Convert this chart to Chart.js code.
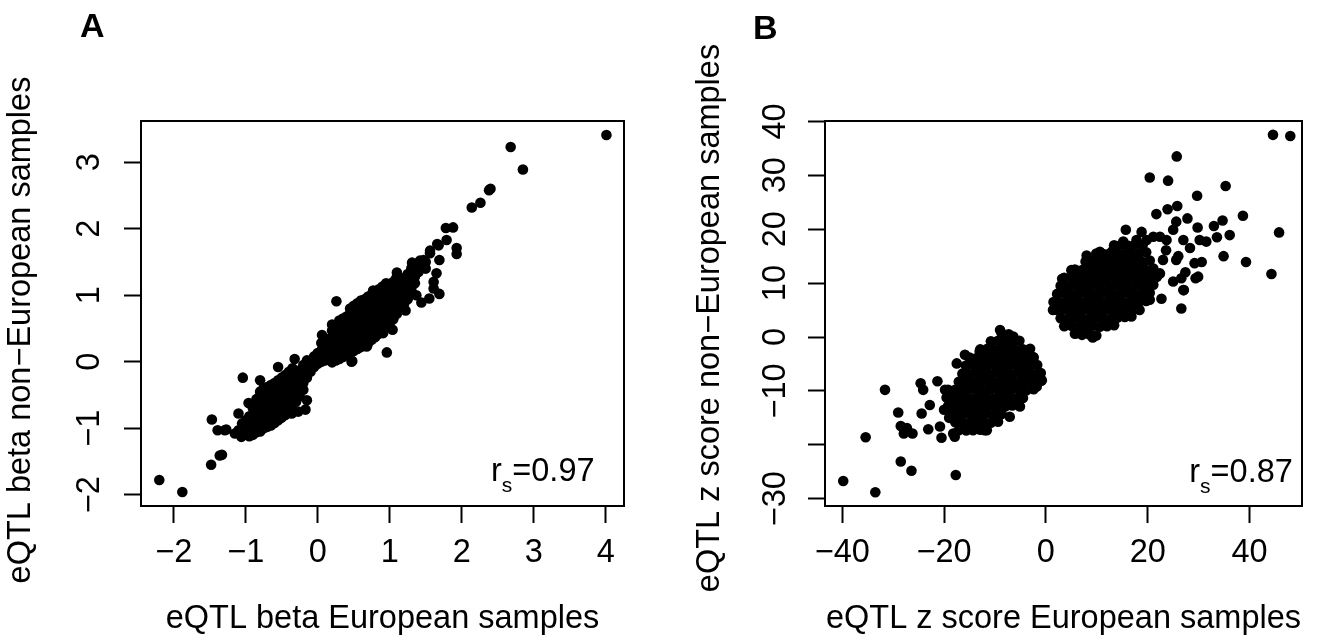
<!DOCTYPE html>
<html>
<head>
<meta charset="utf-8">
<script src="https://cdn.jsdelivr.net/npm/chart.js@4.4.1/dist/chart.umd.min.js"></script>
<style>
  html, body { margin: 0; padding: 0; background: #fff; }
  body { width: 1317px; height: 641px; position: relative; overflow: hidden; }
  canvas { position: absolute; top: 0; }
  .tag { position: absolute; z-index: 2; font: bold 34px 'Liberation Sans', Arial, sans-serif; line-height: 34px; color: #000; }
</style>
</head>
<body>
<div class="tag" style="left:80px; top:8px">A</div>
<div class="tag" style="left:753px; top:10px">B</div>
<canvas id="chartA" style="left:0"></canvas>
<canvas id="chartB" style="left:660px"></canvas>
<script>
// ---- panel A: eQTL beta, European (x) vs non-European (y) ----
const betaXTicks = [-2, -1, 0, 1, 2, 3, 4];
const betaXLabels = ['\u22122', '\u22121', '0', '1', '2', '3', '4'];
const betaYTicks = [-2, -1, 0, 1, 2, 3];
const betaYLabels = ['\u22122', '\u22121', '0', '1', '2', '3'];

// dense diagonal band
const betaBand = [
  [-1.05,-1.05],[-1.05,-0.93],
  [-1.00,-1.08],[-1.00,-0.98],[-1.00,-0.88],
  [-0.95,-1.12],[-0.95,-1.02],[-0.95,-0.92],[-0.95,-0.82],
  [-0.90,-1.10],[-0.90,-1.00],[-0.90,-0.90],[-0.90,-0.80],[-0.90,-0.70],
  [-0.85,-1.06],[-0.85,-0.96],[-0.85,-0.86],[-0.85,-0.76],[-0.85,-0.66],[-0.85,-0.56],
  [-0.80,-1.05],[-0.80,-0.95],[-0.80,-0.84],[-0.80,-0.74],[-0.80,-0.64],[-0.80,-0.55],[-0.80,-0.45],
  [-0.75,-1.00],[-0.75,-0.90],[-0.75,-0.80],[-0.75,-0.70],[-0.75,-0.60],[-0.75,-0.50],[-0.75,-0.40],
  [-0.70,-0.98],[-0.70,-0.88],[-0.70,-0.78],[-0.70,-0.68],[-0.70,-0.58],[-0.70,-0.48],[-0.70,-0.38],
  [-0.65,-0.96],[-0.65,-0.86],[-0.65,-0.75],[-0.65,-0.65],[-0.65,-0.55],[-0.65,-0.45],[-0.65,-0.35],
  [-0.60,-0.92],[-0.60,-0.82],[-0.60,-0.72],[-0.60,-0.62],[-0.60,-0.52],[-0.60,-0.42],[-0.60,-0.32],
  [-0.55,-0.88],[-0.55,-0.78],[-0.55,-0.68],[-0.55,-0.58],[-0.55,-0.48],[-0.55,-0.38],[-0.55,-0.28],
  [-0.50,-0.84],[-0.50,-0.74],[-0.50,-0.64],[-0.50,-0.54],[-0.50,-0.44],[-0.50,-0.34],[-0.50,-0.24],
  [-0.45,-0.80],[-0.45,-0.70],[-0.45,-0.60],[-0.45,-0.50],[-0.45,-0.40],[-0.45,-0.30],[-0.45,-0.20],
  [-0.40,-0.74],[-0.40,-0.64],[-0.40,-0.54],[-0.40,-0.44],[-0.40,-0.34],[-0.40,-0.25],[-0.40,-0.15],
  [-0.35,-0.68],[-0.35,-0.58],[-0.35,-0.48],[-0.35,-0.38],[-0.35,-0.28],[-0.35,-0.20],[-0.35,-0.10],
  [-0.30,-0.60],[-0.30,-0.50],[-0.30,-0.40],[-0.30,-0.30],[-0.30,-0.20],
  [-0.25,-0.52],[-0.25,-0.42],[-0.25,-0.32],[-0.25,-0.22],[-0.25,-0.13],
  [-0.20,-0.42],[-0.20,-0.32],[-0.20,-0.22],[-0.20,-0.12],[-0.20,-0.05],
  [-0.15,-0.24],[-0.15,-0.15],[-0.15,-0.06],[-0.15,0.02],
  [-0.10,-0.15],[-0.10,-0.07],[-0.10,0.01],
  [-0.05,-0.08],[-0.05,0.00],[-0.05,0.08],
  [0.00,-0.03],[0.00,0.05],[0.00,0.13],
  [0.05,0.00],[0.05,0.08],[0.05,0.17],[0.05,0.28],
  [0.10,0.02],[0.10,0.10],[0.10,0.20],[0.10,0.30],
  [0.15,0.05],[0.15,0.14],[0.15,0.24],[0.15,0.34],
  [0.20,-0.01],[0.20,0.07],[0.20,0.17],[0.20,0.27],[0.20,0.37],[0.20,0.47],
  [0.25,0.02],[0.25,0.10],[0.25,0.20],[0.25,0.30],[0.25,0.40],[0.25,0.50],
  [0.30,0.04],[0.30,0.12],[0.30,0.22],[0.30,0.32],[0.30,0.42],[0.30,0.54],[0.30,0.62],
  [0.35,0.07],[0.35,0.15],[0.35,0.25],[0.35,0.35],[0.35,0.45],[0.35,0.57],[0.35,0.65],
  [0.40,0.10],[0.40,0.18],[0.40,0.28],[0.40,0.38],[0.40,0.48],[0.40,0.60],[0.40,0.68],
  [0.45,0.12],[0.45,0.20],[0.45,0.30],[0.45,0.40],[0.45,0.50],[0.45,0.62],[0.45,0.72],[0.45,0.80],
  [0.50,0.16],[0.50,0.24],[0.50,0.34],[0.50,0.44],[0.50,0.54],[0.50,0.65],[0.50,0.76],[0.50,0.84],
  [0.55,0.19],[0.55,0.27],[0.55,0.37],[0.55,0.47],[0.55,0.57],[0.55,0.68],[0.55,0.80],[0.55,0.88],
  [0.60,0.22],[0.60,0.30],[0.60,0.40],[0.60,0.50],[0.60,0.60],[0.60,0.71],[0.60,0.84],[0.60,0.92],
  [0.65,0.25],[0.65,0.33],[0.65,0.43],[0.65,0.53],[0.65,0.63],[0.65,0.74],[0.65,0.86],[0.65,0.94],
  [0.70,0.29],[0.70,0.37],[0.70,0.47],[0.70,0.57],[0.70,0.67],[0.70,0.78],[0.70,0.90],[0.70,0.98],
  [0.75,0.33],[0.75,0.41],[0.75,0.51],[0.75,0.61],[0.75,0.71],[0.75,0.82],[0.75,0.93],[0.75,1.01],
  [0.80,0.37],[0.80,0.45],[0.80,0.55],[0.80,0.65],[0.80,0.75],[0.80,0.86],[0.80,0.97],[0.80,1.05],
  [0.85,0.42],[0.85,0.50],[0.85,0.60],[0.85,0.70],[0.85,0.80],[0.85,0.90],[0.85,1.01],[0.85,1.09],
  [0.90,0.47],[0.90,0.55],[0.90,0.65],[0.90,0.75],[0.90,0.85],[0.90,0.95],[0.90,1.05],[0.90,1.13],
  [0.95,0.52],[0.95,0.60],[0.95,0.70],[0.95,0.80],[0.95,0.90],[0.95,1.00],[0.95,1.10],[0.95,1.18],
  [1.00,0.58],[1.00,0.66],[1.00,0.76],[1.00,0.86],[1.00,0.96],[1.00,1.06],[1.00,1.14],
  [1.05,0.64],[1.05,0.72],[1.05,0.82],[1.05,0.92],[1.05,1.02],[1.05,1.12],[1.05,1.20],
  [1.10,0.72],[1.10,0.80],[1.10,0.90],[1.10,1.00],[1.10,1.10],[1.10,1.20],[1.10,1.28],
  [1.15,0.80],[1.15,0.88],[1.15,0.98],[1.15,1.08],[1.15,1.18],[1.15,1.26],
  [1.20,0.87],[1.20,0.95],[1.20,1.05],[1.20,1.15],[1.20,1.25],
  [1.25,0.94],[1.25,1.02],[1.25,1.12],[1.25,1.22],[1.25,1.32],
  [1.30,1.10],[1.30,1.20],[1.30,1.30],[1.30,1.40],
  [1.35,1.18],[1.35,1.28],[1.35,1.38],
  [1.40,1.35],[1.40,1.45],
  [1.45,1.42],
  [1.50,1.40],[1.50,1.50]
];

// scattered points around and beyond the band
const betaScatter = [
  [-2.20,-1.78],[-1.88,-1.96],[-1.48,-1.55],[-1.36,-1.41],[-1.47,-0.87],[-1.39,-1.03],
  [-1.27,-1.02],[-1.04,-0.24],[-1.33,-1.40],[-1.29,-1.03],[-1.15,-1.08],[-1.06,-1.13],
  [-1.04,-1.10],[-1.10,-1.03],[-0.96,-0.62],[-1.10,-0.78],[-0.83,-1.00],[-0.80,-1.00],
  [-0.66,-0.82],[-0.64,-0.87],[-0.52,-0.85],[-0.36,-0.78],[-0.38,-0.77],[-0.27,-0.75],
  [-0.17,-0.72],[-0.15,-0.58],[-0.80,-0.28],[-0.55,-0.08],[-0.32,0.04],[0.06,0.40],
  [0.20,0.56],[0.26,0.91],[0.48,0.01],[0.47,0.00],[0.69,0.25],[0.68,0.23],[0.91,0.43],
  [0.96,0.14],[1.04,0.48],[0.77,1.07],[1.22,0.77],[1.10,1.34],[1.08,1.23],[1.33,1.43],
  [1.37,1.00],[1.44,0.89],[1.55,0.95],[1.69,1.02],[1.61,1.10],[1.61,1.20],[1.65,1.33],
  [1.47,1.53],[1.56,1.63],[1.68,1.75],[1.31,1.49],[1.42,1.52],[1.69,1.53],[1.56,1.67],
  [1.93,1.62],[1.93,1.71],[1.66,1.77],[1.79,1.83],[1.78,2.01],[1.88,2.02],
  [2.14,2.32],[2.26,2.39],[2.38,2.58],[2.40,2.60],[2.68,3.23],[2.85,2.89],[4.01,3.41]
];

// ---- panel B: eQTL z score, European (x) vs non-European (y) ----
const zXTicks = [-40, -20, 0, 20, 40];
const zXLabels = ['\u221240', '\u221220', '0', '20', '40'];
const zYTicks = [-30, -20, -10, 0, 10, 20, 30, 40];
const zYLabels = ['\u221230', '', '\u221210', '0', '10', '20', '30', '40'];  // -20 label left out, as in the original

// cloud of positive z scores
const zUpperCloud = [
  [5.7,0.6],[7.1,0.4],[8.5,0.5],[9.9,0.3],
  [3.6,2.0],[5.0,2.1],[6.4,1.9],[7.8,2.0],[9.2,2.1],[10.6,1.9],[12.0,2.0],[13.4,2.2],
  [2.9,3.5],[4.3,3.4],[5.7,3.6],[7.1,3.5],[8.5,3.4],[9.9,3.6],[11.3,3.5],[12.7,3.4],[14.1,3.6],[15.5,3.7],
  [2.2,5.0],[3.6,5.1],[5.0,4.9],[6.4,5.0],[7.8,5.1],[9.2,4.9],[10.6,5.0],[12.0,5.1],[13.4,4.9],[14.8,5.0],[16.2,5.1],[17.6,5.2],
  [1.5,6.5],[2.9,6.4],[4.3,6.6],[5.7,6.5],[7.1,6.4],[8.5,6.6],[9.9,6.5],[11.3,6.4],[12.7,6.6],[14.1,6.5],[15.5,6.4],[16.9,6.6],[18.3,6.5],[19.7,6.7],
  [2.2,8.0],[3.6,8.1],[5.0,7.9],[6.4,8.0],[7.8,8.1],[9.2,7.9],[10.6,8.0],[12.0,8.1],[13.4,7.9],[14.8,8.0],[16.2,8.1],[17.6,7.9],[19.0,8.0],[20.4,8.2],
  [2.9,9.5],[4.3,9.4],[5.7,9.6],[7.1,9.5],[8.5,9.4],[9.9,9.6],[11.3,9.5],[12.7,9.4],[14.1,9.6],[15.5,9.5],[16.9,9.4],[18.3,9.6],[19.7,9.5],[21.1,9.7],
  [3.6,11.0],[5.0,11.1],[6.4,10.9],[7.8,11.0],[9.2,11.1],[10.6,10.9],[12.0,11.0],[13.4,11.1],[14.8,10.9],[16.2,11.0],[17.6,11.1],[19.0,10.9],[20.4,11.0],[21.8,11.2],
  [5.7,12.5],[7.1,12.4],[8.5,12.6],[9.9,12.5],[11.3,12.4],[12.7,12.6],[14.1,12.5],[15.5,12.4],[16.9,12.6],[18.3,12.5],[19.7,12.4],[21.1,12.7],
  [7.8,14.0],[9.2,14.1],[10.6,13.9],[12.0,14.0],[13.4,14.1],[14.8,13.9],[16.2,14.0],[17.6,14.1],[19.0,13.9],[20.4,14.2],
  [9.9,15.5],[11.3,15.4],[12.7,15.6],[14.1,15.5],[15.5,15.4],[16.9,15.6],[18.3,15.5],[19.7,15.7],
  [13.4,17.0],[14.8,17.1],[16.2,16.9],[17.6,17.2],[19.0,17.0]
];

// cloud of negative z scores
const zLowerCloud = [
  [-8.7,0.7],[-7.3,0.5],
  [-10.8,-0.8],[-9.4,-0.7],[-8.0,-0.9],[-6.6,-0.8],[-5.2,-0.7],
  [-12.9,-2.3],[-11.5,-2.2],[-10.1,-2.4],[-8.7,-2.3],[-7.3,-2.2],[-5.9,-2.4],[-4.5,-2.3],[-3.1,-2.2],
  [-15.0,-3.8],[-13.6,-3.9],[-12.2,-3.7],[-10.8,-3.8],[-9.4,-3.9],[-8.0,-3.7],[-6.6,-3.8],[-5.2,-3.9],[-3.8,-3.7],[-2.4,-3.8],
  [-15.7,-5.3],[-14.3,-5.2],[-12.9,-5.4],[-11.5,-5.3],[-10.1,-5.2],[-8.7,-5.4],[-7.3,-5.3],[-5.9,-5.2],[-4.5,-5.4],[-3.1,-5.3],[-1.7,-5.2],
  [-16.4,-6.8],[-15.0,-6.9],[-13.6,-6.7],[-12.2,-6.8],[-10.8,-6.9],[-9.4,-6.7],[-8.0,-6.8],[-6.6,-6.9],[-5.2,-6.7],[-3.8,-6.8],[-2.4,-6.9],[-1.0,-6.7],
  [-17.1,-8.3],[-15.7,-8.2],[-14.3,-8.4],[-12.9,-8.3],[-11.5,-8.2],[-10.1,-8.4],[-8.7,-8.3],[-7.3,-8.2],[-5.9,-8.4],[-4.5,-8.3],[-3.1,-8.2],[-1.7,-8.4],[-0.9,-8.1],
  [-19.2,-9.8],[-17.8,-9.8],[-16.4,-9.9],[-15.0,-9.7],[-13.6,-9.8],[-12.2,-9.9],[-10.8,-9.7],[-9.4,-9.8],[-8.0,-9.9],[-6.6,-9.7],[-5.2,-9.8],[-3.8,-9.9],[-2.4,-9.7],
  [-18.5,-11.3],[-17.1,-11.3],[-15.7,-11.2],[-14.3,-11.4],[-12.9,-11.3],[-11.5,-11.2],[-10.1,-11.4],[-8.7,-11.3],[-7.3,-11.2],[-5.9,-11.4],[-4.5,-11.3],
  [-19.2,-12.8],[-17.8,-12.8],[-16.4,-12.9],[-15.0,-12.7],[-13.6,-12.8],[-12.2,-12.9],[-10.8,-12.7],[-9.4,-12.8],[-8.0,-12.9],[-6.6,-12.7],
  [-18.5,-14.3],[-17.1,-14.3],[-15.7,-14.2],[-14.3,-14.4],[-12.9,-14.3],[-11.5,-14.2],[-10.1,-14.4],[-8.7,-14.3],
  [-17.8,-15.8],[-16.4,-15.8],[-15.0,-15.9],[-13.6,-15.7],[-12.2,-15.8],[-10.8,-15.9],
  [-17.1,-17.3],[-15.7,-17.3],[-14.3,-17.3],[-12.9,-17.2]
];

const zScatter = [
  [-39.8,-26.7],[-33.5,-28.8],[-35.4,-18.6],[-31.6,-9.8],[-28.5,-23.1],[-26.4,-24.8],
  [-17.7,-25.6],[-29.0,-14.0],[-28.5,-16.5],[-27.3,-16.9],[-26.2,-17.9],[-27.9,-17.9],
  [-24.4,-14.2],[-24.6,-8.6],[-21.3,-8.2],[-23.1,-17.1],[-20.5,-18.7],[-22.8,-12.6],
  [-24.1,-9.8],[-19.8,-9.8],[-18.8,-10.5],[-20.8,-16.6],[-18.2,-17.9],[-17.9,-18.5],
  [-17.5,-4.9],[-15.9,-3.3],[-13.0,-2.7],[-19.5,-11.2],[-20.0,-13.5],[-19.0,-15.0],
  [-15.6,-17.3],[-11.6,-17.3],[-9.4,-15.7],[-7.1,-14.8],[-12.0,-17.3],[-5.1,-12.9],
  [-9.0,1.3],[-6.4,0.1],[-2.5,-3.7],[-0.8,-8.0],[-1.8,-9.2],
  [1.4,5.0],[3.2,10.8],[5.0,12.4],[8.0,15.1],[5.9,0.7],[9.2,-0.1],[10.6,15.8],[13.2,16.1],
  [15.2,17.7],[17.8,18.0],[15.7,19.9],[18.8,19.5],[19.8,18.0],[21.1,18.6],[22.4,18.6],
  [23.7,18.0],[23.6,16.1],[23.0,14.3],[22.4,11.8],[21.7,11.2],[20.4,6.9],[18.4,5.0],
  [16.8,3.8],[22.7,7.1],[26.6,5.3],[27.1,8.7],[27.0,8.7],[25.0,10.3],[26.6,10.9],
  [29.4,10.9],[29.9,11.2],[27.4,12.0],[29.2,13.7],[30.6,13.9],[25.6,14.3],[26.0,15.0],
  [28.3,16.5],[27.0,18.0],[31.5,17.7],[30.2,18.0],[25.0,19.9],[25.6,21.4],[29.8,20.3],
  [27.8,22.0],[21.7,22.8],[23.9,23.7],[25.8,24.3],[20.4,29.6],[24.0,29.0],[25.7,33.5],
  [29.7,26.2],[33.0,20.6],[34.7,21.6],[33.6,18.5],[36.1,18.9],[34.9,15.0],[39.3,13.9],
  [38.7,22.5],[35.3,28.0],[44.3,11.7],[45.8,19.4],[44.6,37.5],[48.0,37.3]
];

const FONT = "'Liberation Sans', Arial, sans-serif";
const TEXT_SIZE = 32.5;

// full frame round the plotting region, like R's box()
const boxPlugin = {
  id: 'frame',
  afterDraw(chart) {
    const { ctx, chartArea: a } = chart;
    ctx.save();
    ctx.strokeStyle = '#000';
    ctx.lineWidth = 2;
    ctx.strokeRect(a.left, a.top, a.right - a.left, a.bottom - a.top);
    ctx.restore();
  }
};

// rotated y-axis title, placed where the original puts it
const yTitlePlugin = {
  id: 'yTitle',
  afterDraw(chart, args, opts) {
    const { ctx } = chart;
    ctx.save();
    ctx.translate(opts.x, opts.y);
    ctx.rotate(-Math.PI / 2);
    ctx.fillStyle = '#000';
    ctx.font = TEXT_SIZE + 'px ' + FONT;
    ctx.textAlign = 'center';
    ctx.textBaseline = 'middle';
    ctx.fillText(opts.text, 0, 0);
    ctx.restore();
  }
};

// "r_s = value" note, right-aligned at a data position
const rsPlugin = {
  id: 'rsNote',
  afterDatasetsDraw(chart, args, opts) {
    const { ctx, scales } = chart;
    const right = scales.x.getPixelForValue(opts.x);
    const base = scales.y.getPixelForValue(opts.y);
    const main = TEXT_SIZE + 'px ' + FONT;
    const sub = '21px ' + FONT;
    const tail = '=' + opts.value;
    ctx.save();
    ctx.fillStyle = '#000';
    ctx.textAlign = 'left';
    ctx.textBaseline = 'alphabetic';
    ctx.font = main;
    const wR = ctx.measureText('r').width;
    const wTail = ctx.measureText(tail).width;
    ctx.font = sub;
    const wS = ctx.measureText('s').width;
    const left = right - wR - wS - wTail;
    ctx.font = main;
    ctx.fillText('r', left, base);
    ctx.fillText(tail, left + wR + wS, base);
    ctx.font = sub;
    ctx.fillText('s', left + wR, base + 11);
    ctx.restore();
  }
};

function axisGrid() {
  return { display: true, drawOnChartArea: false, drawTicks: true, tickLength: 17, tickWidth: 2, tickColor: '#000' };
}

function makePanel(canvas, cfg) {
  canvas.width = cfg.width;
  canvas.height = 641;
  const datasets = cfg.groups.map(pts => ({
    data: pts.map(([x, y]) => ({ x, y })),
    pointRadius: 5.3,
    pointHoverRadius: 5.3,
    pointBackgroundColor: '#000',
    pointBorderWidth: 0,
    showLine: false
  }));
  return new Chart(canvas.getContext('2d'), {
    type: 'scatter',
    data: { datasets },
    options: {
      responsive: false,
      animation: false,
      events: [],
      layout: { padding: { top: 121, right: cfg.padRight, bottom: 0, left: 0 } },
      plugins: {
        legend: { display: false },
        tooltip: { enabled: false },
        rsNote: cfg.note,
        yTitle: cfg.yTitle
      },
      scales: {
        x: {
          type: 'linear',
          min: cfg.xMin,
          max: cfg.xMax,
          afterFit: s => { s.height = 135; },
          afterBuildTicks: s => { s.ticks = cfg.xTicks.map(value => ({ value })); },
          grid: axisGrid(),
          border: { display: false },
          ticks: {
            autoSkip: false, maxRotation: 0, color: '#000', padding: 11,
            font: { family: FONT, size: TEXT_SIZE },
            callback: (v, i) => cfg.xLabels[i]
          },
          title: {
            display: true, text: cfg.xTitle, color: '#000',
            font: { family: FONT, size: TEXT_SIZE }, padding: { top: 0, bottom: 2.5 }
          }
        },
        y: {
          type: 'linear',
          min: cfg.yMin,
          max: cfg.yMax,
          afterFit: s => { s.width = cfg.yAxisWidth; },
          afterBuildTicks: s => { s.ticks = cfg.yTicks.map(value => ({ value })); },
          grid: axisGrid(),
          border: { display: false },
          ticks: {
            autoSkip: false, minRotation: 90, maxRotation: 90, crossAlign: 'center',
            color: '#000', padding: cfg.yTickPad,
            font: { family: FONT, size: TEXT_SIZE },
            callback: (v, i) => cfg.yLabels[i]
          }
        }
      }
    },
    plugins: [boxPlugin, rsPlugin, yTitlePlugin]
  });
}

makePanel(document.getElementById('chartA'), {
  width: 660, padRight: 36, yAxisWidth: 141, yTickPad: 15.5,
  groups: [betaBand, betaScatter],
  xMin: -2.454, xMax: 4.254, yMin: -2.170, yMax: 3.620,
  xTicks: betaXTicks, xLabels: betaXLabels, yTicks: betaYTicks, yLabels: betaYLabels,
  xTitle: 'eQTL beta European samples',
  yTitle: { text: 'eQTL beta non\u2212European samples', x: 21, y: 330 },
  note: { x: 3.845, y: -1.79, value: '0.97' }
});

makePanel(document.getElementById('chartB'), {
  width: 657, padRight: 15, yAxisWidth: 165, yTickPad: 4.6,
  groups: [zLowerCloud, zUpperCloud, zScatter],
  xMin: -43.38, xMax: 50.30, yMin: -31.35, yMax: 40.07,
  xTicks: zXTicks, xLabels: zXLabels, yTicks: zYTicks, yLabels: zYLabels,
  xTitle: 'eQTL z score European samples',
  yTitle: { text: 'eQTL z score non\u2212European samples', x: 50, y: 318 },
  note: { x: 48.5, y: -26.96, value: '0.87' }
});
</script>
</body>
</html>
